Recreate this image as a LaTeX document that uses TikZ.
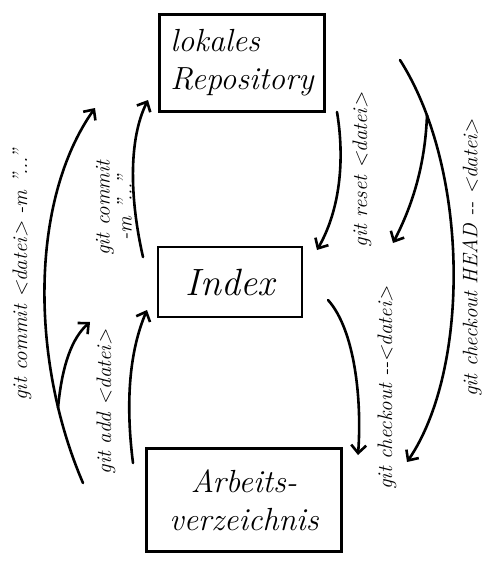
\documentclass[tikz,border=0pt]{standalone}
\usepackage{fontspec}
\usetikzlibrary{arrows.meta}

\begin{document}
\begin{tikzpicture}[x=1pt, y=-1pt, line width=2.6pt, line cap=round,
  box/.style = {shape=rectangle, draw, align=center, inner sep=2pt,
    font=\fontsize{32}{38}\selectfont\itshape},
  lbl/.style = {rotate=90, align=center, inner sep=1pt,
    font=\fontsize{21}{22}\selectfont\itshape},
  arr/.style = {-{Straight Barb[length=8pt, width=15pt]}}]
  \useasboundingbox (0,0) rectangle (496,574);

  % the three areas
  \node[box, align=left, minimum width=165pt, minimum height=97pt] (repo) at (242,63) {lokales\\Repository};
  \node[box, minimum width=144pt, minimum height=70pt, font=\fontsize{38}{42}\selectfont\itshape] (index) at (230,282) {Index};
  \node[box, minimum width=195pt, minimum height=103pt] (work) at (244,500) {Arbeits-\\verzeichnis};

  % free ends of the arrows
  \coordinate (lbot) at (83,483);
  \coordinate (ltop) at (95,108);
  \coordinate (lsplit) at (58,408);
  \coordinate (laddtip) at (90,322);
  \coordinate (addstart) at (133,463);
  \coordinate (addtip) at (147,310);
  \coordinate (comstart) at (143,257);
  \coordinate (comtip) at (148,100);
  \coordinate (resstart) at (337,112);
  \coordinate (restip) at (317,250);
  \coordinate (rtop) at (400,60);
  \coordinate (rbot) at (407,462);
  \coordinate (rsplit) at (427,115);
  \coordinate (rresettip) at (393,243);
  \coordinate (costart) at (328,300);
  \coordinate (cotip) at (358,455);

  % left side
  \draw[arr] (lbot) .. controls (30,360) and (30,200) .. (ltop);
  \draw[arr] (lsplit) .. controls (62,365) and (72,338) .. (laddtip);
  \draw[arr] (addstart) .. controls (125,400) and (130,350) .. (addtip);
  \draw[arr] (comstart) .. controls (130,200) and (128,140) .. (comtip);

  % right side
  \draw[arr] (resstart) .. controls (345,160) and (340,210) .. (restip);
  \draw[arr] (rtop) .. controls (470,170) and (470,370) .. (rbot);
  \draw[arr] (rsplit) .. controls (425,170) and (410,210) .. (rresettip);
  \draw[arr] (costart) .. controls (355,330) and (362,400) .. (cotip);

  % commands
  \node[lbl] (c1) at (22,275) {git commit <datei> -m "..."};
  \node[lbl] (add) at (106,402) {git add <datei>};
  \node[lbl] (c2) at (114,208) {git commit\\-m "..."};
  \node[lbl] (reset) at (362,170) {git reset <datei>};
  \node[lbl] (co1) at (387,388) {git checkout -{}-<datei>};
  \node[lbl] (co2) at (472,258) {git checkout HEAD -{}- <datei>};
\end{tikzpicture}
\end{document}
